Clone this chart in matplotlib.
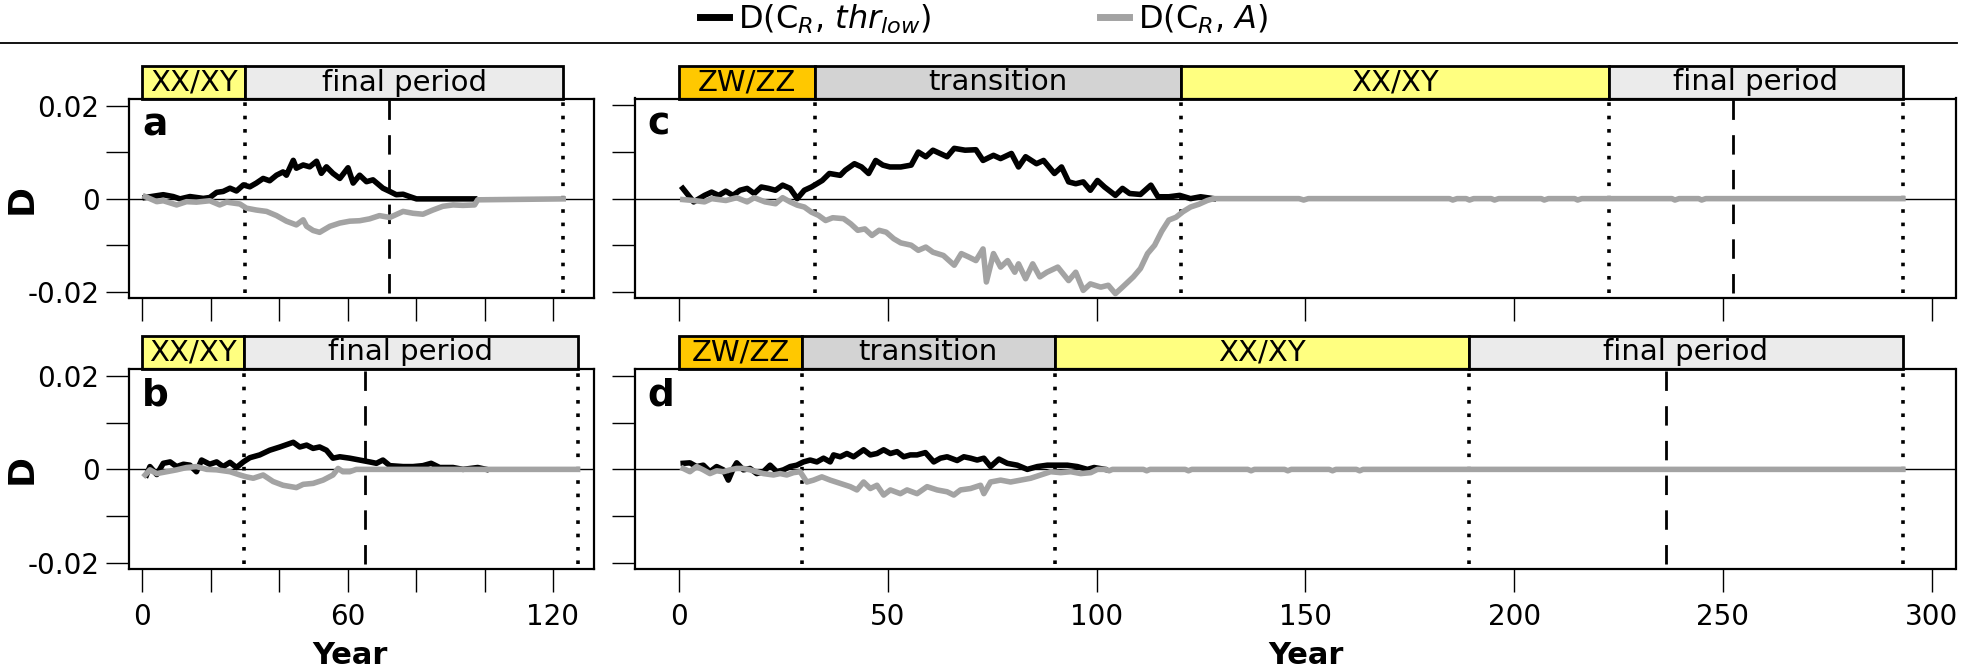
import matplotlib
matplotlib.use("Agg")
import matplotlib.pyplot as plt
from matplotlib.patches import Rectangle
from matplotlib.lines import Line2D

# ---- data ----
a_black_x = [0.8, 6.1, 9.0, 11.0, 13.9, 17.8, 19.7, 21.7, 23.6, 25.6, 27.5, 29.5, 31.4, 33.3, 35.3, 37.2, 39.2, 41.1, 42.1,
             44.1, 45.0, 47.0, 48.9, 50.9, 52.3, 53.8, 55.7, 57.7, 60.1, 61.6, 63.5, 65.5, 67.4, 70.3, 72.3, 74.2, 76.2,
             78.1, 80.1, 97.1]
a_black_y = [0.0003, 0.0009, 0.0005, 0.0, 0.0005, 0.0001, 0.0003, 0.0014, 0.0016, 0.0023, 0.0017, 0.0030, 0.0026, 0.0034,
             0.0044, 0.0039, 0.0051, 0.0058, 0.0051, 0.0083, 0.0066, 0.0073, 0.0069, 0.0081, 0.0055, 0.0069, 0.0055,
             0.0044, 0.0067, 0.0034, 0.0051, 0.0037, 0.0041, 0.0023, 0.0016, 0.0009, 0.0010, 0.0005, 0.0, 0.0]
a_gray_x = [0.8, 4.2, 6.1, 10.0, 12.9, 15.8, 19.7, 22.6, 24.6, 28.5, 30.4, 33.3, 36.3, 39.2, 42.1, 45.0, 47.0, 48.0, 49.9,
            51.8, 54.8, 57.7, 60.6, 63.5, 66.4, 69.3, 72.3, 76.2, 79.1, 82.0, 84.9, 87.8, 90.8, 93.7, 97.1, 98.0, 123.0]
a_gray_y = [0.0005, -0.0006, -0.0004, -0.0013, -0.0006, -0.0007, -0.0004, -0.0013, -0.0007, -0.0011, -0.0020, -0.0024,
            -0.0027, -0.0036, -0.0048, -0.0056, -0.0045, -0.0059, -0.0068, -0.0072, -0.0059, -0.0052, -0.0048, -0.0047,
            -0.0043, -0.0036, -0.0040, -0.0027, -0.0031, -0.0033, -0.0024, -0.0016, -0.0013, -0.0014, -0.0013, -0.0002,
            0.0]

b_black_x = [1.2, 2.2, 4.2, 6.1, 8.1, 10.0, 12.0, 13.9, 15.8, 17.3, 19.7, 21.7, 23.6, 25.6, 27.5, 29.5, 31.4, 34.3, 37.2,
             40.2, 44.1, 46.0, 48.0, 49.9, 51.8, 53.8, 55.7, 57.7, 60.6, 63.5, 66.4, 68.4, 70.3, 72.3, 76.2, 79.1, 82.0,
             84.4, 86.9, 90.8, 93.7, 98.0, 100.5]
b_black_y = [-0.0012, 0.0006, -0.0011, 0.0013, 0.0016, 0.0006, 0.0011, 0.0009, -0.0005, 0.0020, 0.0011, 0.0016, 0.0006,
             0.0015, 0.0004, 0.0016, 0.0025, 0.0031, 0.0041, 0.0048, 0.0058, 0.0048, 0.0052, 0.0045, 0.0048, 0.0041,
             0.0024, 0.0027, 0.0024, 0.0020, 0.0016, 0.0013, 0.0020, 0.0008, 0.0006, 0.0006, 0.0008, 0.0013, 0.0004,
             0.0004, 0.0, 0.0004, 0.0]
b_gray_x = [0.8, 2.2, 4.2, 7.1, 10.0, 12.9, 15.8, 18.8, 21.7, 25.6, 28.5, 30.4, 32.4, 35.3, 38.2, 41.1, 45.0, 47.0, 49.9,
            52.8, 55.7, 57.2, 58.6, 60.6, 62.5, 127.2]
b_gray_y = [-0.0012, -0.0001, -0.0009, -0.0005, -0.0001, 0.0004, 0.0006, 0.0, -0.0001, -0.0005, -0.0012, -0.0016, -0.0019,
            -0.0012, -0.0026, -0.0034, -0.0039, -0.0032, -0.0030, -0.0023, -0.0012, 0.0002, -0.0005, -0.0005, 0.0, 0.0]

c_black_x = [0.9, 3.5, 6.1, 7.8, 9.5, 11.2, 12.9, 14.6, 16.3, 18.0, 19.7, 21.4, 23.1, 24.8, 26.6, 28.3, 30.0, 31.7, 33.0,
             34.3, 36.0, 38.6, 39.8, 42.0, 43.7, 45.4, 47.1, 48.8, 50.5, 53.1, 55.6, 57.3, 59.1, 60.8, 62.5, 64.2, 65.9,
             68.5, 71.1, 72.8, 75.3, 77.0, 79.6, 81.3, 83.0, 85.6, 87.3, 89.9, 91.6, 93.3, 95.0, 96.8, 98.5, 100.2,
             101.9, 104.5, 106.2, 107.9, 110.5, 113.0, 114.7, 117.3, 119.9, 122.5, 124.9, 128.0]
c_black_y = [0.0022, -0.0007, 0.0007, 0.0014, 0.0007, 0.0016, 0.0007, 0.0018, 0.0022, 0.0011, 0.0025, 0.0022, 0.0018,
             0.0029, 0.0022, 0.0, 0.0018, 0.0025, 0.0032, 0.0039, 0.0054, 0.0050, 0.0061, 0.0075, 0.0068, 0.0054,
             0.0082, 0.0072, 0.0068, 0.0068, 0.0072, 0.0100, 0.0090, 0.0104, 0.0097, 0.0090, 0.0108, 0.0104, 0.0105,
             0.0082, 0.0093, 0.0086, 0.0097, 0.0068, 0.0090, 0.0075, 0.0082, 0.0054, 0.0068, 0.0036, 0.0032, 0.0036,
             0.0018, 0.0039, 0.0025, 0.0007, 0.0022, 0.0011, 0.0009, 0.0029, 0.0004, 0.0004, 0.0007, 0.0, 0.0004, 0.0]
c_gray_x = [0.9, 3.5, 6.1, 7.8, 11.2, 13.8, 16.3, 18.0, 20.6, 23.1, 24.8, 26.6, 28.3, 30.0, 31.7, 33.4, 35.1, 36.8, 39.4,
            41.1, 42.8, 44.5, 46.2, 47.9, 49.6, 51.4, 53.1, 55.6, 57.3, 59.1, 60.8, 63.3, 65.9, 67.6, 69.3, 71.1, 72.8,
            73.6, 75.3, 77.0, 78.7, 80.4, 81.3, 83.0, 84.7, 86.4, 88.1, 90.7, 93.3, 95.0, 96.8, 98.5, 101.0, 102.8,
            104.5, 106.2, 108.8, 110.5, 112.2, 113.9, 115.6, 117.3, 119.0, 120.7, 122.5, 124.5, 126.5, 128.0,
            148.5, 149.6, 150.7, 184.5, 185.3, 186.3, 188.5, 189.3, 190.3, 194.5, 195.3, 196.3, 206.5, 207.2, 208.2,
            214.5, 215.2, 216.2, 237.8, 238.5, 239.5, 244.2, 244.9, 245.9, 293.1]
c_gray_y = [-0.0002, -0.0004, -0.0007, 0.0, -0.0004, 0.0002, -0.0007, 0.0002, -0.0007, -0.0011, 0.0002, -0.0007, -0.0014,
            -0.0018, -0.0029, -0.0036, -0.0047, -0.0041, -0.0043, -0.0054, -0.0068, -0.0065, -0.0079, -0.0068,
            -0.0072, -0.0086, -0.0095, -0.0100, -0.0111, -0.0104, -0.0115, -0.0122, -0.0143, -0.0118, -0.0125,
            -0.0133, -0.0108, -0.0179, -0.0118, -0.0147, -0.0133, -0.0158, -0.0140, -0.0172, -0.0140, -0.0168,
            -0.0158, -0.0147, -0.0176, -0.0158, -0.0197, -0.0183, -0.0190, -0.0186, -0.0204, -0.0190, -0.0168,
            -0.0150, -0.0118, -0.0100, -0.0070, -0.0046, -0.0040, -0.0028, -0.0018, -0.0012, -0.0004, 0.0,
            0.0, -0.0003, 0.0, 0.0, -0.0003, 0.0, 0.0, -0.0003, 0.0, 0.0, -0.0003, 0.0, 0.0, -0.0003, 0.0,
            0.0, -0.0003, 0.0, 0.0, -0.0003, 0.0, 0.0, -0.0003, 0.0, 0.0]

d_black_x = [1.0, 2.6, 4.2, 5.8, 7.4, 9.0, 10.6, 11.8, 13.0, 13.8, 15.4, 17.0, 18.6, 20.2, 21.8, 23.4, 25.0, 26.6, 28.2,
             29.8, 31.4, 33.0, 34.6, 36.2, 37.0, 38.6, 40.2, 41.8, 44.2, 45.8, 47.4, 49.0, 50.6, 52.2, 53.8, 55.4, 57.0,
             59.0, 61.0, 62.6, 64.2, 66.6, 68.2, 69.8, 71.4, 73.0, 74.6, 76.6, 78.6, 81.0, 83.4, 85.8, 88.2, 90.6, 93.0,
             95.4, 97.8, 99.4, 102.0]
d_black_y = [0.0013, 0.0014, 0.0006, 0.0009, -0.0005, 0.0006, -0.0001, -0.0023, 0.0002, 0.0014, -0.0001, 0.0002, -0.0009,
             -0.0005, 0.0009, -0.0005, -0.0001, 0.0006, 0.0009, 0.0016, 0.0020, 0.0016, 0.0024, 0.0016, 0.0031, 0.0027,
             0.0034, 0.0027, 0.0042, 0.0031, 0.0034, 0.0042, 0.0034, 0.0038, 0.0027, 0.0031, 0.0031, 0.0036, 0.0016,
             0.0024, 0.0027, 0.0019, 0.0027, 0.0024, 0.0020, 0.0024, 0.0006, 0.0022, 0.0013, 0.0009, 0.0, 0.0006,
             0.0009, 0.0009, 0.0009, 0.0006, 0.0, 0.0004, 0.0]
d_gray_x = [1.0, 2.6, 4.2, 5.8, 7.4, 9.0, 10.6, 12.2, 13.8, 15.4, 17.0, 18.6, 20.2, 22.6, 24.2, 25.8, 27.4, 29.0, 30.6,
            32.2, 34.2, 36.2, 38.6, 41.0, 42.6, 44.2, 45.8, 47.4, 49.0, 50.6, 53.0, 54.6, 57.0, 59.4, 61.8, 64.2, 65.8,
            67.4, 69.8, 72.2, 73.0, 74.6, 77.0, 79.4, 81.8, 84.2, 86.6, 89.0, 91.4, 93.8, 96.2, 98.6, 100.2,
            102.2, 103.0, 103.8, 111.2, 112.0, 112.8, 121.2, 122.0, 122.8, 136.2, 137.0, 137.8, 145.0, 145.8, 146.6,
            155.7, 156.5, 157.3, 162.2, 163.0, 163.8, 293.1]
d_gray_y = [0.0002, -0.0005, 0.0006, -0.0001, -0.0009, -0.0003, -0.0005, -0.0001, 0.0002, 0.0002, -0.0001, -0.0005,
            -0.0009, -0.0012, -0.0009, -0.0012, -0.0007, -0.0005, -0.0027, -0.0023, -0.0016, -0.0023, -0.0030, -0.0037,
            -0.0044, -0.0027, -0.0041, -0.0034, -0.0055, -0.0044, -0.0052, -0.0044, -0.0052, -0.0037, -0.0044,
            -0.0048, -0.0055, -0.0044, -0.0041, -0.0034, -0.0052, -0.0027, -0.0023, -0.0027, -0.0023, -0.0019,
            -0.0012, -0.0005, -0.0007, -0.0005, -0.0009, -0.0007, 0.0,
            0.0, -0.0003, 0.0, 0.0, -0.0003, 0.0, 0.0, -0.0003, 0.0, 0.0, -0.0003, 0.0, 0.0, -0.0003, 0.0,
            0.0, -0.0003, 0.0, 0.0, -0.0003, 0.0, 0.0]

# phases: label, start, end
a_phases = [("XX/XY", 0, 30.0), ("final period", 30.0, 123.0)]
b_phases = [("XX/XY", 0, 29.7), ("final period", 29.7, 127.2)]
c_phases = [("ZW/ZZ", 0, 32.6), ("transition", 32.6, 120.1), ("XX/XY", 120.1, 222.7), ("final period", 222.7, 293.1)]
d_phases = [("ZW/ZZ", 0, 29.4), ("transition", 29.4, 90.0), ("XX/XY", 90.0, 189.1), ("final period", 189.1, 293.1)]
a_dashed = 72.2
b_dashed = 65.1
c_dashed = 252.3
d_dashed = 236.3

phase_colors = {"ZW/ZZ": "#ffc800", "transition": "#d3d3d3", "XX/XY": "#ffff80", "final period": "#ebebeb"}
gray = "#a3a3a3"

W, H = 1968, 668
fig = plt.figure(figsize=(W / 100, H / 100), dpi=100)


def px_axes(left, top, right, bottom):
    return fig.add_axes([left / W, 1 - bottom / H, (right - left) / W, (bottom - top) / H])


def panel(ax, letter, bx, by, gx, gy, phases, dashed, xlim, xticks, xlabels, ylabels):
    ax.axhline(0, color="black", lw=1, zorder=1)
    ax.plot(bx, by, color="black", lw=4, zorder=3, solid_joinstyle="round")
    ax.plot(gx, gy, color=gray, lw=4, zorder=4, solid_joinstyle="round")
    ax.set_xlim(*xlim)
    ax.set_ylim(-0.0214, 0.0215)
    dots = [p[1] for p in phases[1:]] + [phases[-1][2]]
    ax.vlines(dots, -0.0203, 0.0215, color="black", lw=2.6, linestyles=(0, (1, 2.7)), zorder=2)
    ax.vlines(dashed, -0.0203, 0.0215, color="black", lw=2, linestyles=(0, (7, 5.5)), zorder=2)
    tr = ax.get_xaxis_transform()
    for name, s, e in phases:
        ax.add_patch(Rectangle((s, 1.0), e - s, 0.165, transform=tr, facecolor=phase_colors[name],
                               edgecolor="black", lw=2, clip_on=False))
        ax.text((s + e) / 2, 1.0825, name, transform=tr, ha="center", va="center", fontsize=21)
    ax.annotate(letter, (0, 1), xycoords="axes fraction", xytext=(9, -6), textcoords="offset points",
                ha="left", va="top", fontsize=27, fontweight="bold")
    ax.set_xticks(xticks)
    ax.set_xticklabels(xlabels)
    ax.set_yticks([-0.02, -0.01, 0, 0.01, 0.02])
    ax.set_yticklabels(ylabels)
    ax.tick_params(axis="both", length=16.5, width=1, labelsize=20)
    ax.tick_params(axis="x", pad=8)
    ax.tick_params(axis="y", pad=5)
    for s in ax.spines.values():
        s.set_linewidth(1.6)


ylab = ["-0.02", "", "0", "", "0.02"]
noy = [""] * 5
xt_ab = [0, 20, 40, 60, 80, 100, 120]
xt_cd = [0, 50, 100, 150, 200, 250, 300]

ax_a = px_axes(129.4, 99, 594, 298.3)
ax_b = px_axes(129.4, 369, 594, 569.3)
ax_c = px_axes(634.8, 98.5, 1955.5, 298.3)
ax_d = px_axes(634.8, 369, 1955.5, 569.3)

panel(ax_a, "a", a_black_x, a_black_y, a_gray_x, a_gray_y, a_phases, a_dashed, (-3.8, 132),
      xt_ab, [""] * 7, ylab)
panel(ax_b, "b", b_black_x, b_black_y, b_gray_x, b_gray_y, b_phases, b_dashed, (-3.8, 132),
      xt_ab, ["0", "", "", "60", "", "", "120"], ylab)
panel(ax_c, "c", c_black_x, c_black_y, c_gray_x, c_gray_y, c_phases, c_dashed, (-10.6, 305.7),
      xt_cd, [""] * 7, noy)
panel(ax_d, "d", d_black_x, d_black_y, d_gray_x, d_gray_y, d_phases, d_dashed, (-10.6, 305.7),
      xt_cd, [str(v) for v in xt_cd], noy)

for ax in (ax_a, ax_b):
    ax.set_ylabel("D", fontsize=26, fontweight="bold")
    ax.yaxis.set_label_coords(-0.195, 0.5)
for ax, xc in ((ax_b, 0.475), (ax_d, 0.508)):
    ax.set_xlabel("Year", fontsize=22, fontweight="bold")
    ax.xaxis.set_label_coords(xc, -0.36)

# legend and rule on top
handles = [Line2D([], [], color="black", lw=5), Line2D([], [], color=gray, lw=5)]
labels = [r"D(C$_{R}$, $thr_{low}$)", r"D(C$_{R}$, $A$)"]
fig.legend(handles, labels, loc="center", bbox_to_anchor=(0.5, 1 - 19 / H), ncol=2, frameon=False, fontsize=23,
           handlelength=0.9, handletextpad=0.28, columnspacing=5.3)
fig.add_artist(Line2D([0, 1957 / W], [1 - 43 / H, 1 - 43 / H], color="black", lw=1.3, transform=fig.transFigure))

fig.savefig("out.png", dpi=100)
